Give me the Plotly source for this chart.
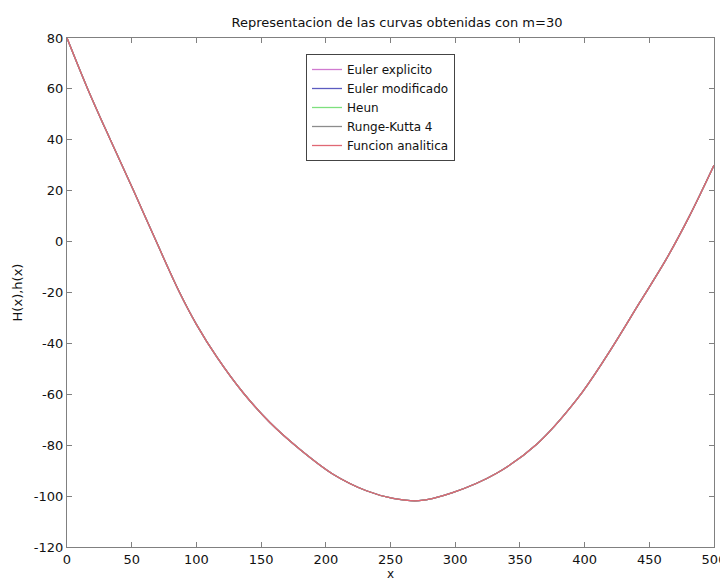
import plotly.graph_objects as go

# Values (all five methods overlap on screen)
x_values = [0, 16, 33.5, 51.5, 69, 87, 100, 116, 136, 156.8, 179.9, 205.6, 231.4, 252, 272,
            298, 332, 363, 394, 417, 442.5, 463, 481, 500]
h_values = [80, 60, 40, 20, 0, -20, -32.5, -45.5, -59.3, -71.1, -81.6, -91.4, -97.9, -100.9, -101.8,
            -98.6, -91, -79.6, -62, -45, -24, -7, 10, 30]

series_names = ["Euler explicito", "Euler modificado", "Heun", "Runge-Kutta 4", "Funcion analitica"]
series_colors = ["#d07ad0", "#5c5cc0", "#7ee07e", "#8c8c8c", "#e06874"]
series_values = [h_values, h_values, h_values, h_values, h_values]

x_ticks = [0, 50, 100, 150, 200, 250, 300, 350, 400, 450, 500]
x_tick_labels = ["0", "50", "100", "150", "200", "250", "300", "350", "400", "450", "500"]
y_ticks = [-120, -100, -80, -60, -40, -20, 0, 20, 40, 60, 80]
y_tick_labels = ["-120", "-100", "-80", "-60", "-40", "-20", "0", "20", "40", "60", "80"]

FONT = "DejaVu Sans, Arial"
# the page body adds an 8px offset, so the figure is 8px smaller than the window
W, H = 720, 575

fig = go.Figure()
for name, color, vals in zip(series_names, series_colors, series_values):
    fig.add_trace(go.Scatter(x=x_values, y=vals, mode="lines", name=name,
                             line=dict(color=color, width=1.3, shape="spline", smoothing=1.0)))

axis_common = dict(showgrid=False, zeroline=False, showline=True, linecolor="#808080",
                   linewidth=1.2, mirror="allticks", ticks="inside", ticklen=5,
                   tickcolor="#808080", automargin=False,
                   tickfont=dict(family=FONT, size=13, color="#111"))

fig.update_layout(
    width=W, height=H,
    margin=dict(l=59, r=14, t=30, b=36),
    paper_bgcolor="white", plot_bgcolor="white",
    title=dict(text="Representacion de las curvas obtenidas con m=30", x=(397 - 8) / W, xanchor="center",
               y=1 - (22 - 8) / H, yanchor="middle", automargin=False,
               font=dict(family=FONT, size=13, color="#111")),
    xaxis=dict(range=[0, 500], tickvals=x_ticks, ticktext=x_tick_labels,
               title=dict(text="x", standoff=1, font=dict(family=FONT, size=12, color="#111")),
               **axis_common),
    yaxis=dict(range=[-120, 80], tickvals=y_ticks, ticktext=y_tick_labels,
               title=dict(text="H(x),h(x)", standoff=8, font=dict(family=FONT, size=13, color="#111")),
               **axis_common),
    legend=dict(x=(306 - 67) / 647, y=1 - (54 - 38) / 509, xanchor="left", yanchor="top",
                bordercolor="#444", borderwidth=1, bgcolor="white",
                font=dict(family=FONT, size=12, color="#111"),
                itemwidth=30, tracegroupgap=0),
    showlegend=True,
)

fig.write_html("out.html")
